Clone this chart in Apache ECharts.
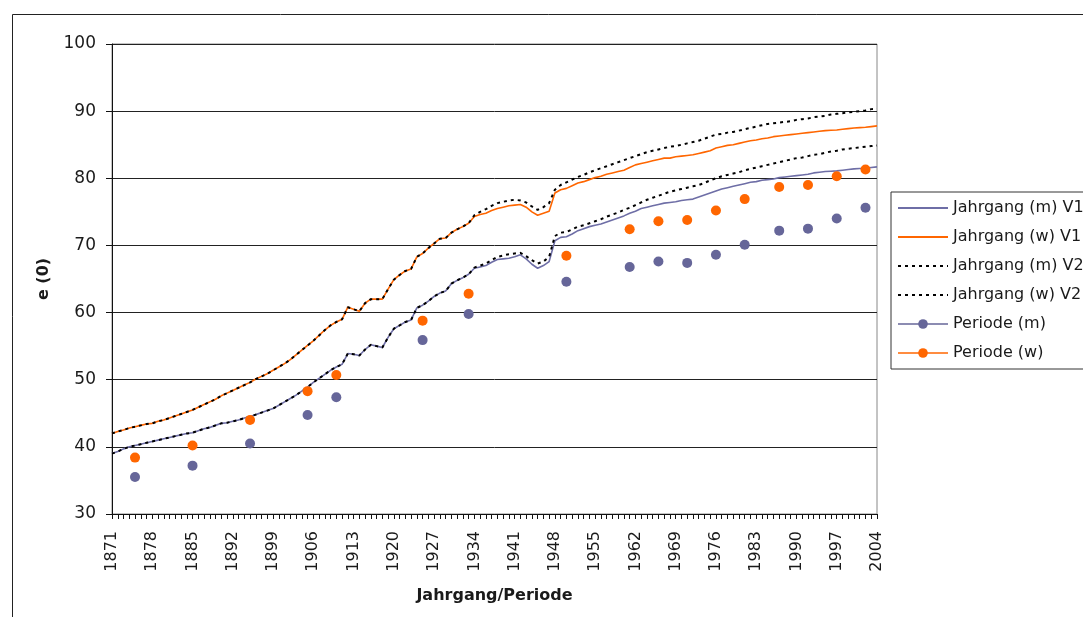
<!DOCTYPE html>
<html>
<head>
<meta charset="utf-8">
<script src="https://cdn.jsdelivr.net/npm/echarts@6/dist/echarts.min.js"></script>
<style>
  html, body { margin: 0; padding: 0; background: #fff; }
  #chart { width: 1083px; height: 617px; }
</style>
</head>
<body>
<div id="chart"></div>
<script>
// Jahrgänge 1871 - 2004
const years = []
for (let y = 1871; y <= 2004; y++) years.push(String(y))

// Kohorten-Lebenserwartung, Variante 1
const jahrgangM1 = [
  39.0, 39.3, 39.7, 40.0, 40.2, 40.4, 40.6, 40.8, 41.0, 41.2,
  41.4, 41.6, 41.8, 42.0, 42.1, 42.4, 42.7, 42.9, 43.2, 43.5,
  43.6, 43.8, 44.0, 44.3, 44.5, 44.8, 45.1, 45.4, 45.7, 46.2,
  46.7, 47.2, 47.7, 48.3, 48.9, 49.6, 50.2, 50.8, 51.4, 51.9,
  52.3, 53.9, 53.8, 53.6, 54.5, 55.2, 55.0, 54.8, 56.3, 57.6,
  58.1, 58.6, 58.9, 60.7, 61.1, 61.7, 62.4, 62.9, 63.2, 64.3,
  64.8, 65.2, 65.7, 66.6, 66.8, 67.0, 67.5, 67.9, 68.0, 68.1,
  68.3, 68.6, 68.0, 67.2, 66.6, 67.0, 67.6, 70.7, 71.2, 71.3,
  71.7, 72.2, 72.5, 72.8, 73.0, 73.2, 73.5, 73.8, 74.1, 74.4,
  74.8, 75.1, 75.5, 75.7, 75.9, 76.1, 76.3, 76.4, 76.5, 76.7,
  76.8, 76.9, 77.2, 77.5, 77.8, 78.1, 78.4, 78.6, 78.8, 79.0,
  79.2, 79.4, 79.5, 79.7, 79.8, 79.9, 80.1, 80.2, 80.3, 80.4,
  80.5, 80.6, 80.8, 80.9, 81.0, 81.05, 81.1, 81.2, 81.3, 81.4,
  81.45, 81.5, 81.6, 81.7,
]
const jahrgangW1 = [
  42.0, 42.3, 42.5, 42.8, 43.0, 43.2, 43.4, 43.5, 43.8, 44.0,
  44.3, 44.6, 44.9, 45.2, 45.5, 45.9, 46.3, 46.7, 47.1, 47.6,
  48.0, 48.4, 48.8, 49.2, 49.6, 50.1, 50.5, 50.9, 51.4, 51.9,
  52.4, 53.0, 53.7, 54.4, 55.1, 55.8, 56.6, 57.4, 58.1, 58.6,
  59.0, 60.8, 60.5, 60.2, 61.4, 62.0, 62.0, 62.0, 63.5, 64.9,
  65.6, 66.2, 66.5, 68.3, 68.8, 69.6, 70.3, 71.0, 71.1, 71.9,
  72.4, 72.8, 73.3, 74.3, 74.6, 74.8, 75.2, 75.5, 75.7, 75.9,
  76.0, 76.1, 75.7, 75.0, 74.5, 74.8, 75.1, 77.8, 78.3, 78.5,
  78.9, 79.3, 79.5, 79.8, 80.1, 80.3, 80.6, 80.8, 81.0, 81.2,
  81.6, 82.0, 82.2, 82.4, 82.6, 82.8, 83.0, 83.0, 83.2, 83.3,
  83.4, 83.5, 83.7, 83.9, 84.1, 84.5, 84.7, 84.9, 85.0, 85.2,
  85.4, 85.6, 85.7, 85.9, 86.0, 86.2, 86.3, 86.4, 86.5, 86.6,
  86.7, 86.8, 86.9, 87.0, 87.1, 87.15, 87.2, 87.3, 87.4, 87.5,
  87.55, 87.6, 87.7, 87.8,
]

// Variante 2 (bis 1933 identisch mit V1)
const jahrgangM2 = [
  39.0, 39.3, 39.7, 40.0, 40.2, 40.4, 40.6, 40.8, 41.0, 41.2,
  41.4, 41.6, 41.8, 42.0, 42.1, 42.4, 42.7, 42.9, 43.2, 43.5,
  43.6, 43.8, 44.0, 44.3, 44.5, 44.8, 45.1, 45.4, 45.7, 46.2,
  46.7, 47.2, 47.7, 48.3, 48.9, 49.6, 50.2, 50.8, 51.4, 51.9,
  52.3, 53.9, 53.8, 53.6, 54.5, 55.2, 55.0, 54.8, 56.3, 57.6,
  58.1, 58.6, 58.9, 60.7, 61.1, 61.7, 62.4, 62.9, 63.2, 64.3,
  64.8, 65.2, 65.7, 66.7, 67.0, 67.3, 67.8, 68.3, 68.5, 68.7,
  68.8, 68.9, 68.4, 67.8, 67.3, 67.6, 68.3, 71.4, 71.9, 72.0,
  72.4, 72.8, 73.0, 73.3, 73.6, 73.9, 74.3, 74.6, 74.9, 75.3,
  75.6, 76.0, 76.4, 76.8, 77.1, 77.4, 77.7, 78.0, 78.2, 78.4,
  78.6, 78.8, 79.0, 79.3, 79.7, 80.0, 80.3, 80.5, 80.7, 80.9,
  81.2, 81.4, 81.6, 81.8, 82.0, 82.2, 82.4, 82.6, 82.8, 83.0,
  83.1, 83.3, 83.5, 83.6, 83.8, 84.0, 84.1, 84.3, 84.4, 84.5,
  84.6, 84.7, 84.8, 84.9,
]
const jahrgangW2 = [
  42.0, 42.3, 42.5, 42.8, 43.0, 43.2, 43.4, 43.5, 43.8, 44.0,
  44.3, 44.6, 44.9, 45.2, 45.5, 45.9, 46.3, 46.7, 47.1, 47.6,
  48.0, 48.4, 48.8, 49.2, 49.6, 50.1, 50.5, 50.9, 51.4, 51.9,
  52.4, 53.0, 53.7, 54.4, 55.1, 55.8, 56.6, 57.4, 58.1, 58.6,
  59.0, 60.8, 60.5, 60.2, 61.4, 62.0, 62.0, 62.0, 63.5, 64.9,
  65.6, 66.2, 66.5, 68.3, 68.8, 69.6, 70.3, 71.0, 71.1, 71.9,
  72.4, 72.8, 73.3, 74.5, 75.0, 75.4, 75.9, 76.3, 76.5, 76.7,
  76.8, 76.7, 76.4, 75.8, 75.3, 75.7, 76.3, 78.3, 79.0, 79.4,
  79.8, 80.2, 80.5, 80.9, 81.2, 81.5, 81.8, 82.1, 82.4, 82.7,
  83.0, 83.3, 83.6, 83.9, 84.1, 84.3, 84.5, 84.7, 84.8, 85.0,
  85.2, 85.4, 85.6, 85.9, 86.2, 86.5, 86.6, 86.8, 86.9, 87.1,
  87.3, 87.5, 87.7, 87.9, 88.1, 88.2, 88.3, 88.4, 88.5, 88.7,
  88.8, 88.9, 89.1, 89.2, 89.3, 89.5, 89.6, 89.7, 89.8, 89.9,
  90.0, 90.1, 90.3, 90.4,
]

// Perioden-Lebenserwartung
const periodYears = ['1875', '1885', '1895', '1905', '1910', '1925', '1933', '1950', '1961',
  '1966', '1971', '1976', '1981', '1987', '1992', '1997', '2002']
const periodeM = [35.5, 37.2, 40.5, 44.75, 47.4, 55.9, 59.8, 64.6, 66.8,
  67.6, 67.4, 68.6, 70.1, 72.2, 72.5, 74.0, 75.6]
const periodeW = [38.4, 40.2, 44.0, 48.3, 50.7, 58.8, 62.8, 68.45, 72.4,
  73.6, 73.8, 75.2, 76.9, 78.7, 79.0, 80.3, 81.3]

const seriesNames = ['Jahrgang (m) V1', 'Jahrgang (w) V1', 'Jahrgang (m) V2',
  'Jahrgang (w) V2', 'Periode (m)', 'Periode (w)']

const purple = '#666699'
const purpleLine = '#6e6ea6'
const orange = '#ff6600'
const font = 'DejaVu Sans'

const chart = echarts.init(document.getElementById('chart'))

const lineSeries = (name, data, color, dashed) => ({
  name: name,
  type: 'line',
  data: data,
  symbol: 'none',
  animation: false,
  lineStyle: {
    color: color,
    width: dashed ? 2 : 1.6,
    type: dashed ? [3, 4] : 'solid',
  },
  itemStyle: { color: color },
})

const pointSeries = (name, values, color) => ({
  name: name,
  type: 'line',
  data: periodYears.map((y, i) => [y, values[i]]),
  symbol: 'circle',
  symbolSize: 10,
  showAllSymbol: true,
  animation: false,
  lineStyle: { width: 0, color: color },
  itemStyle: { color: color },
})

const noMarker = { opacity: 0 }

const options = {
  animation: false,
  textStyle: { fontFamily: font },
  graphic: [
    {
      type: 'rect',
      shape: { x: 12.5, y: 14.5, width: 1200, height: 800 },
      style: { fill: 'none', stroke: '#222', lineWidth: 1 },
      silent: true,
      z: -10,
    },
  ],
  grid: {
    left: 112,
    top: 44,
    width: 765,
    height: 470,
    show: true,
    borderColor: '#888',
    borderWidth: 1,
  },
  legend: {
    orient: 'vertical',
    left: 891,
    top: 192,
    padding: [8, 8, 8, 6],
    itemWidth: 50,
    itemHeight: 12,
    itemGap: 13,
    itemTextGap: 5,
    borderColor: '#333',
    borderWidth: 1,
    textStyle: { fontSize: 16, color: '#1a1a1a', fontFamily: font },
    data: [
      { name: seriesNames[0], itemStyle: noMarker },
      { name: seriesNames[1], itemStyle: noMarker },
      { name: seriesNames[2], itemStyle: noMarker },
      { name: seriesNames[3], itemStyle: noMarker },
      { name: seriesNames[4], lineStyle: { width: 1.6, opacity: 1, color: purple } },
      { name: seriesNames[5], lineStyle: { width: 1.6, opacity: 1, color: orange } },
    ],
  },
  xAxis: {
    type: 'category',
    data: years,
    boundaryGap: false,
    name: 'Jahrgang/Periode',
    nameLocation: 'middle',
    nameGap: 74,
    nameTextStyle: { fontSize: 16, fontWeight: 'bold', color: '#1a1a1a' },
    axisLine: { lineStyle: { color: '#111', width: 1 } },
    axisTick: { show: true, interval: 0, length: 5, lineStyle: { color: '#111' } },
    axisLabel: {
      interval: 6,
      rotate: 90,
      margin: 17,
      fontSize: 16,
      color: '#1a1a1a',
    },
    splitLine: { show: false },
  },
  yAxis: {
    type: 'value',
    min: 30,
    max: 100,
    interval: 10,
    name: 'e (0)',
    nameLocation: 'middle',
    nameRotate: 90,
    nameGap: 60,
    nameTextStyle: { fontSize: 16, fontWeight: 'bold', color: '#1a1a1a' },
    axisLine: { show: true, lineStyle: { color: '#111', width: 1 } },
    axisTick: { show: true, length: 6, lineStyle: { color: '#111' } },
    axisLabel: { margin: 16, fontSize: 17, color: '#1a1a1a' },
    splitLine: { show: true, lineStyle: { color: '#222', width: 1 } },
  },
  series: [
    lineSeries(seriesNames[0], jahrgangM1, purpleLine, false),
    lineSeries(seriesNames[1], jahrgangW1, orange, false),
    lineSeries(seriesNames[2], jahrgangM2, '#000', true),
    lineSeries(seriesNames[3], jahrgangW2, '#000', true),
    pointSeries(seriesNames[4], periodeM, purple),
    pointSeries(seriesNames[5], periodeW, orange),
  ],
}
options && chart.setOption(options)
</script>
</body>
</html>
